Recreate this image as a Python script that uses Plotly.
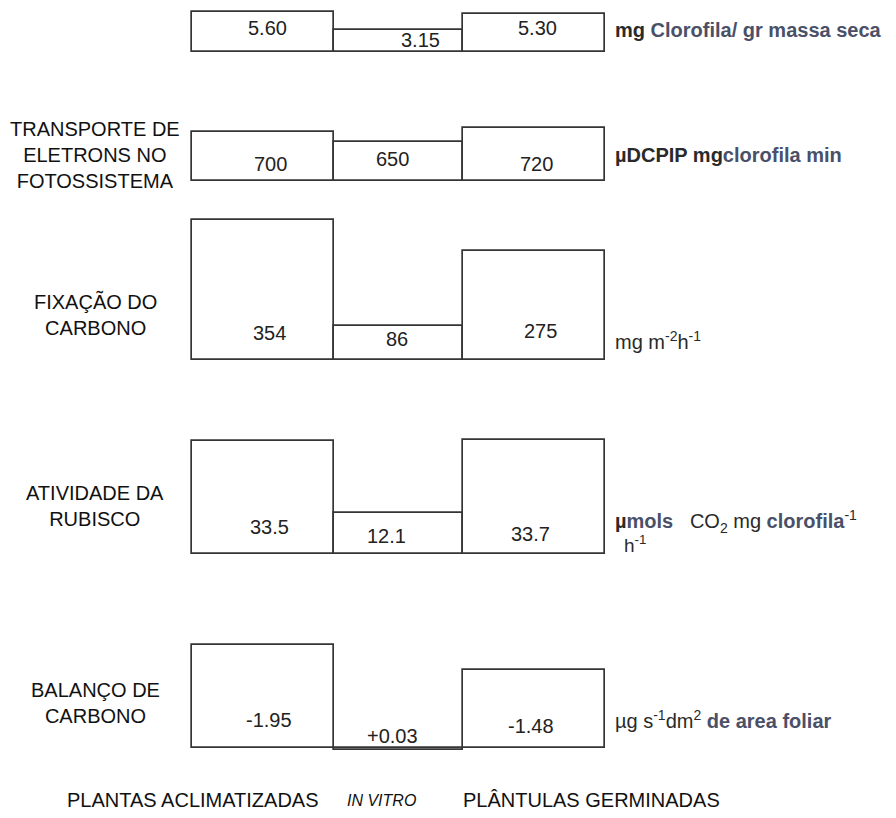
import plotly.graph_objects as go

# ---------------- data ----------------
categories = ["PLANTAS ACLIMATIZADAS", "IN VITRO", "PLÂNTULAS GERMINADAS"]
clorofila = [5.60, 3.15, 5.30]
transporte = [700, 650, 720]
fixacao = [354, 86, 275]
rubisco = [33.5, 12.1, 33.7]
balanco = [-1.95, 0.03, -1.48]

row_names = ["", "TRANSPORTE DE<br>ELETRONS NO<br>FOTOSSISTEMA", "FIXAÇÃO DO<br>CARBONO",
             "ATIVIDADE DA<br>RUBISCO", "BALANÇO DE<br>CARBONO"]
value_formats = ["{:.2f}", "{:.0f}", "{:.0f}", "{:.1f}", "{:+.2f}"]

DARK = "#2a2a2a"
BLUE = "#4a5068"
NB = "\u00a0"
units = [
    f"<b><span style='color:{DARK}'>mg</span> <span style='color:{BLUE}'>Clorofila/ gr massa seca</span></b>",
    f"<b><span style='color:{DARK}'>µDCPIP mg</span><span style='color:{BLUE}'>clorofila min</span></b>",
    f"<span style='color:{DARK}'>mg m<sup>-2</sup>h<sup>-1</sup></span>",
    f"<b><span style='color:{DARK}'>µ</span><span style='color:{BLUE}'>mols</span></b>{NB*3}<span style='color:{DARK}'>CO<sub>2</sub> mg</span>{NB}<b><span style='color:{BLUE}'>clorofila</span></b><sup>-1</sup>",
    f"<span style='color:{DARK}'>µg s<sup>-1</sup>dm<sup>2</sup></span> <b><span style='color:{BLUE}'>de area foliar</span></b>",
]
series = [clorofila, transporte, fixacao, rubisco, balanco]

# ---------------- layout geometry (pixels of the 896x818 page) ----------------
OFF = 8                      # browser body margin
W, H = 896 - 2 * OFF, 818 - 2 * OFF


def px(x):
    return (x - OFF) / W


def py(y):
    return 1 - (y - OFF) / H


X0, X1 = 192, 605
widths = [1.11, 1.0, 1.11]
centers = []
acc = 0
for w in widths:
    centers.append(acc + w / 2)
    acc += w
xmax = acc
PAD = 4
ux = xmax / (X1 - X0)
x_range = [-PAD * ux, xmax + PAD * ux]
x_dom = [px(X0 - PAD), px(X1 + PAD)]

# per row: (top pixel, baseline pixel, base value, value at top pixel)
rows_geom = [
    (12, 52, 0, 5.6),
    (128, 181, 450, 720),      # truncated scale, bars start at 450
    (220, 360, 0, 354),
    (440, 554, 0, 33.7),
    (645, 748, 0, -1.95),      # inverted: negative balance drawn upward
]
text_offsets = [
    [(4, 24), (22, 12), (4, 24)],
    [(7, 17), (-6, 22), (3, 17)],
    [(6, 27), (-2, 21), (7, 29)],
    [(6, 27), (-12, 18), (-3, 20)],
    [(6, 28), (-6, 12), (-3, 22)],
]
name_y = [0, 155, 314, 506, 703]
unit_y = [30, 155, 340, 521, 719]

LINE = "#353535"
fig = go.Figure()
annotations = []
layout = dict(
    width=W, height=H, margin=dict(l=0, r=0, t=0, b=0),
    paper_bgcolor="white", plot_bgcolor="rgba(0,0,0,0)",
    showlegend=False, bargap=0,
    font=dict(family="Liberation Sans, Arial, sans-serif", color="#222"),
)

for i, vals in enumerate(series):
    k = i + 1
    xa = f"x{k}" if k > 1 else "x"
    ya = f"y{k}" if k > 1 else "y"
    top, bot, vb, vt = rows_geom[i]
    per_px = (vt - vb) / (bot - top)
    rng = [vb - PAD * per_px, vt + PAD * per_px]
    fig.add_trace(go.Bar(
        x=centers, y=[v - vb for v in vals], base=[vb] * len(vals),
        width=widths, xaxis=xa, yaxis=ya,
        marker=dict(color="white", line=dict(color=LINE, width=1.7)),
        hoverinfo="skip",
    ))
    xkey = "xaxis" if k == 1 else f"xaxis{k}"
    ykey = "yaxis" if k == 1 else f"yaxis{k}"
    layout[xkey] = dict(domain=x_dom, range=x_range, anchor=ya,
                        showgrid=False, zeroline=False, showticklabels=False, ticks="",
                        showline=False, fixedrange=True)
    layout[ykey] = dict(domain=[py(bot + PAD), py(top - PAD)], range=rng, anchor=xa,
                        showgrid=False, zeroline=False, showticklabels=False, ticks="",
                        showline=False, fixedrange=True)
    for j, v in enumerate(vals):
        dx, dy = text_offsets[i][j]
        annotations.append(dict(
            x=centers[j], y=vb, xref=xa, yref=ya,
            text=value_formats[i].format(v), showarrow=False,
            xshift=dx, yshift=dy, font=dict(size=20, color="#222"),
        ))
    if row_names[i]:
        annotations.append(dict(
            x=px(95), y=py(name_y[i]), xref="paper", yref="paper",
            text=row_names[i], showarrow=False, align="center",
            xanchor="center", yanchor="middle",
            font=dict(size=20, color="#111"),
        ))
    annotations.append(dict(
        x=px(613), y=py(unit_y[i]), xref="paper", yref="paper",
        text=units[i], showarrow=False, align="left",
        xanchor="left", yanchor="middle", font=dict(size=20, color=DARK),
    ))

# row 4 second unit line
annotations.append(dict(
    x=px(622), y=py(544), xref="paper", yref="paper",
    text=f"<span style='color:{DARK}'>h<sup>-1</sup></span>", showarrow=False,
    xanchor="left", yanchor="middle", font=dict(size=19, color=DARK),
))

# category labels at the bottom
cat_x = [193, 381, 591]
for c, cx in zip(categories, cat_x):
    txt = f"<i>{c}</i>" if c == "IN VITRO" else c
    annotations.append(dict(
        x=px(cx), y=py(800), xref="paper", yref="paper",
        text=txt, showarrow=False, xanchor="center", yanchor="middle",
        font=dict(size=20 if c != "IN VITRO" else 16, color="#111"),
    ))

layout["annotations"] = annotations
fig.update_layout(**layout)
fig.write_html("out.html")
